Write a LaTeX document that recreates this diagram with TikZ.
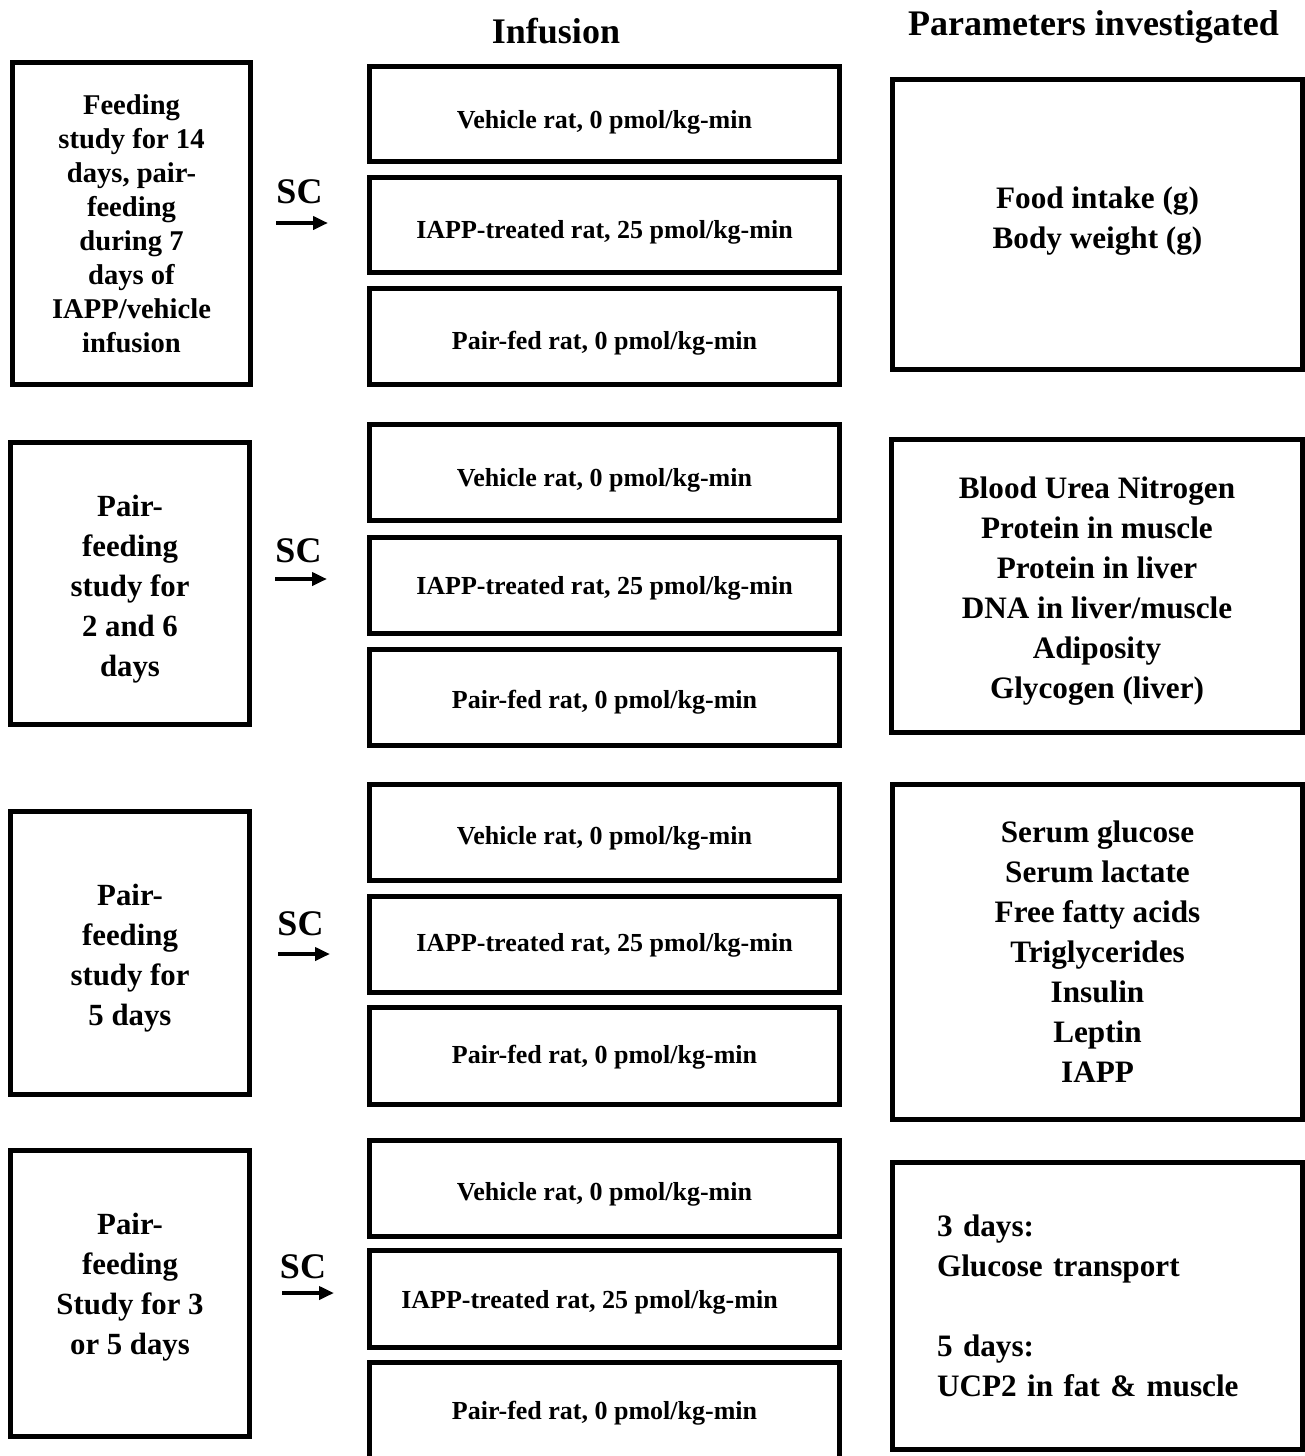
\documentclass[tikz,border=0pt]{standalone}
\usepackage{fontspec}
\setmainfont{Liberation Serif}
\usetikzlibrary{arrows.meta}
\newcommand{\mtext}[2][2.5pt]{\raisebox{-#1}[\height][\depth]{#2}}
\tikzset{
  box/.style={draw, line width=2.5pt, inner sep=0pt, align=center, font=\bfseries},
  leftbox/.style={box, minimum width=119.5pt},
  lefttext/.style={inner sep=0pt, align=center, font=\bfseries\fontsize{15.4}{20}\selectfont},
  midbox/.style={box, minimum width=235pt, font=\bfseries\fontsize{13}{15.6}\selectfont},
  rightbox/.style={box, minimum width=205pt, font=\bfseries\fontsize{15.6}{20}\selectfont},
  righttext/.style={inner sep=0pt, align=center, font=\bfseries\fontsize{15.6}{20}\selectfont},
  hdr/.style={font=\bfseries\fontsize{18}{21}\selectfont, inner sep=0pt, anchor=base},
  sclabel/.style={font=\bfseries\fontsize{18}{21}\selectfont, inner sep=0pt, anchor=base},
  scarrow/.style={line width=2pt, -{Triangle[length=7.5pt,width=6.5pt]}}
}
\begin{document}
\begin{tikzpicture}[x=0.5pt,y=-0.5pt]
\useasboundingbox (0,0) rectangle (1305,1456);

% headers
\node[hdr] (hinf) at (556,43) {Infusion};
\node[hdr] (hpar) at (1093.5,35) {Parameters investigated};

% ---------- Row 1 ----------
\node[leftbox, minimum width=119pt, minimum height=161pt, font=\bfseries\fontsize{14.3}{17}\selectfont] (l1) at (131.5,223.5)
  {Feeding\\study for 14\\days, pair-\\feeding\\during 7\\days of\\IAPP/vehicle\\infusion};
\node[sclabel] (sc1) at (299.5,203) {SC};
\coordinate (a1s) at (276,223);
\coordinate (a1e) at (328,223);
\draw[scarrow] (a1s) -- (a1e);
\node[midbox, minimum height=47.5pt] (m11) at (604.5,114) {\mtext[4pt]{Vehicle rat, 0 pmol/kg-min}};
\node[midbox, minimum height=47.5pt] (m12) at (604.5,225) {\mtext[3.5pt]{IAPP-treated rat, 25 pmol/kg-min}};
\node[midbox, minimum height=48pt] (m13) at (604.5,336.5) {\mtext[3.5pt]{Pair-fed rat, 0 pmol/kg-min}};
\node[rightbox, minimum height=145pt] (r1) at (1097.5,224.5) {};
\node[righttext, yshift=1.5pt] (r1t) at (r1.center) {Food intake (g)\\Body weight (g)};

% ---------- Row 2 ----------
\node[leftbox, minimum height=141pt] (l2) at (130,583.5) {};
\node[lefttext, yshift=-3pt] (l2t) at (l2.center) {Pair-\\feeding\\study for\\2 and 6\\days};
\node[sclabel] (sc2) at (298.5,562) {SC};
\coordinate (a2s) at (275,579);
\coordinate (a2e) at (327,579);
\draw[scarrow] (a2s) -- (a2e);
\node[midbox, minimum height=48pt] (m21) at (604.5,472.5) {\mtext[4pt]{Vehicle rat, 0 pmol/kg-min}};
\node[midbox, minimum height=48pt] (m22) at (604.5,585.5) {\mtext[1.5pt]{IAPP-treated rat, 25 pmol/kg-min}};
\node[midbox, minimum height=48pt] (m23) at (604.5,697.5) {\mtext[2.5pt]{Pair-fed rat, 0 pmol/kg-min}};
\node[rightbox, minimum width=205.5pt, minimum height=146.5pt] (r2) at (1097,586) {};
\node[righttext, yshift=-2.5pt] (r2t) at (r2.center)
  {Blood Urea Nitrogen\\Protein in muscle\\Protein in liver\\DNA in liver/muscle\\Adiposity\\Glycogen (liver)};

% ---------- Row 3 ----------
\node[leftbox, minimum height=141.5pt] (l3) at (130,953) {};
\node[lefttext, yshift=-2.5pt] (l3t) at (l3.center) {Pair-\\feeding\\study for\\5 days};
\node[sclabel] (sc3) at (300.5,935) {SC};
\coordinate (a3s) at (278,954);
\coordinate (a3e) at (330,954);
\draw[scarrow] (a3s) -- (a3e);
\node[midbox, minimum height=48pt] (m31) at (604.5,832.5) {\mtext[3pt]{Vehicle rat, 0 pmol/kg-min}};
\node[midbox, minimum height=48pt] (m32) at (604.5,944.5) {\mtext[0.5pt]{IAPP-treated rat, 25 pmol/kg-min}};
\node[midbox, minimum height=48.5pt] (m33) at (604.5,1056) {\mtext[0.5pt]{Pair-fed rat, 0 pmol/kg-min}};
\node[rightbox, minimum height=167.5pt] (r3) at (1097.5,952)
  {Serum glucose\\Serum lactate\\Free fatty acids\\Triglycerides\\Insulin\\Leptin\\IAPP};

% ---------- Row 4 ----------
\node[leftbox, minimum height=143pt] (l4) at (130,1293.5) {};
\node[lefttext, yshift=3pt] (l4t) at (l4.center) {Pair-\\feeding\\Study for 3\\or 5 days};
\node[sclabel] (sc4) at (303,1278) {SC};
\coordinate (a4s) at (282,1293);
\coordinate (a4e) at (334,1293);
\draw[scarrow] (a4s) -- (a4e);
\node[midbox, minimum height=48pt] (m41) at (604.5,1188.5) {\mtext[3pt]{Vehicle rat, 0 pmol/kg-min}};
\node[midbox, minimum height=48.5pt] (m42) at (604.5,1299) {\mtext[1.5pt]{\hspace*{-15pt}IAPP-treated rat, 25 pmol/kg-min}};
\node[midbox, minimum height=48pt] (m43) at (604.5,1410.5) {\mtext[1.5pt]{Pair-fed rat, 0 pmol/kg-min}};
\node[rightbox, minimum height=143.5pt, text width=160.5pt, align=left] (r4) at (1097.5,1306)
  {3 days:\\Glucose transport\\[20pt]5 days:\\UCP2 in fat \& muscle};
\end{tikzpicture}
\end{document}
